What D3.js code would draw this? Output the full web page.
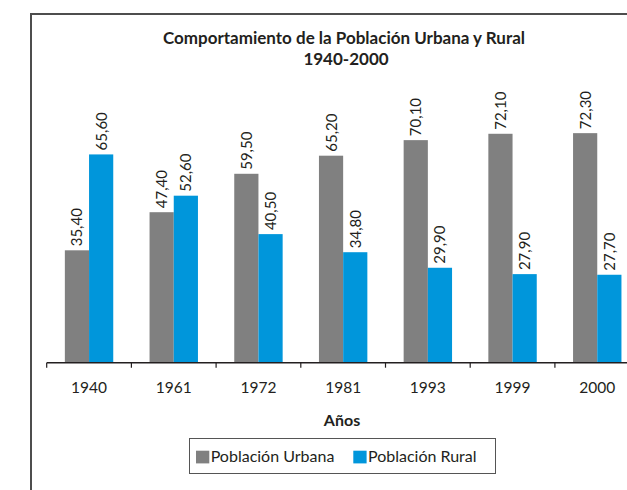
<!DOCTYPE html>
<html>
<head>
<meta charset="utf-8">
<title>Comportamiento de la Población Urbana y Rural</title>
<script src="https://d3js.org/d3.v7.min.js"></script>
<style>
  body { margin: 0; background: #fff; }
  svg text { font-family: Lato, "Open Sans", sans-serif; fill: #231f20; }
  .title { font-weight: bold; font-size: 17px; }
  .cat text { font-size: 15.5px; }
  .val { font-size: 15px; }
</style>
</head>
<body>
<svg width="627" height="490"></svg>
<script>
// data
var years = ["1940", "1961", "1972", "1981", "1993", "1999", "2000"];
var series = ["Población Urbana", "Población Rural"];
var urbana = [35.4, 47.4, 59.5, 65.2, 70.1, 72.1, 72.3];
var rural = [65.6, 52.6, 40.5, 34.8, 29.9, 27.9, 27.7];
var colors = ["#808080", "#0096db"];

var svg = d3.select("svg");

// outer frame (cut off on the right and at the bottom)
svg.append("rect")
  .attr("x", 31).attr("y", 14)
  .attr("width", 700).attr("height", 600)
  .attr("fill", "none")
  .attr("stroke", "#4d4d4d")
  .attr("stroke-width", 2);

var base = 362.7;
var x = d3.scaleBand().domain(years).range([46.7, 46.7 + 7 * 84.7]);
var xs = d3.scaleBand().domain(series).range([0, x.bandwidth()]).paddingOuter(0.75);
var y = d3.scaleLinear().domain([0, 80]).range([base, base - 80 * 3.175]);

var rows = years.map(function(yr, i) {
  return { year: yr, vals: [urbana[i], rural[i]] };
});

// title
svg.append("text").attr("class", "title")
  .attr("x", 344).attr("y", 43.5).attr("text-anchor", "middle")
  .text("Comportamiento de la Población Urbana y Rural");
svg.append("text").attr("class", "title")
  .attr("x", 346).attr("y", 64.5).attr("text-anchor", "middle")
  .text("1940-2000");

// bars
var g = svg.selectAll(".grp")
  .data(rows)
  .enter().append("g")
  .attr("class", "grp")
  .attr("transform", function(d) { return "translate(" + x(d.year) + ",0)"; });

g.selectAll("rect")
  .data(function(d) { return d.vals.map(function(v, j) { return { s: series[j], v: v, j: j }; }); })
  .enter().append("rect")
  .attr("x", function(d) { return xs(d.s); })
  .attr("y", function(d) { return y(d.v); })
  .attr("width", xs.bandwidth())
  .attr("height", function(d) { return base - y(d.v); })
  .attr("fill", function(d) { return colors[d.j]; });

// value labels, rotated
g.selectAll(".val")
  .data(function(d) { return d.vals.map(function(v, j) { return { s: series[j], v: v }; }); })
  .enter().append("text")
  .attr("class", "val")
  .attr("transform", function(d) {
    var cx = xs(d.s) + xs.bandwidth() / 2 + 5.5;
    return "translate(" + cx + "," + (y(d.v) - 4) + ") rotate(-90)";
  })
  .text(function(d) { return d3.format(".2f")(d.v).replace(".", ","); });

// x axis
svg.append("line")
  .attr("x1", x.range()[0]).attr("x2", x.range()[1])
  .attr("y1", base).attr("y2", base)
  .attr("stroke", "#231f20").attr("stroke-width", 1.5);

var edges = years.map(function(d) { return x(d); }).concat([x.range()[1]]);
svg.selectAll(".tk")
  .data(edges)
  .enter().append("line")
  .attr("class", "tk")
  .attr("x1", function(d) { return d; }).attr("x2", function(d) { return d; })
  .attr("y1", base).attr("y2", base + 5)
  .attr("stroke", "#231f20").attr("stroke-width", 1.2);

var ax = svg.append("g").attr("class", "cat")
  .attr("transform", "translate(0," + base + ")")
  .call(d3.axisBottom(x).tickSize(0).tickPadding(19));
ax.select(".domain").remove();
ax.selectAll("text").attr("fill", "#231f20").attr("font-family", "Lato, sans-serif");

svg.append("text").attr("class", "title")
  .attr("x", 342).attr("y", 426).attr("text-anchor", "middle")
  .style("font-size", "16px")
  .text("Años");

// legend
svg.append("rect")
  .attr("x", 189.5).attr("y", 438.5)
  .attr("width", 306).attr("height", 35)
  .attr("fill", "#fff").attr("stroke", "#555").attr("stroke-width", 1);

var legX = [196, 353.3];
var lg = svg.selectAll(".leg")
  .data(series)
  .enter().append("g")
  .attr("class", "leg")
  .attr("transform", function(d, i) { return "translate(" + legX[i] + ",450.7)"; });
lg.append("rect")
  .attr("width", 13.3).attr("height", 12.7)
  .attr("fill", function(d, i) { return colors[i]; });
lg.append("text")
  .attr("x", 14.7).attr("y", 11.6)
  .style("font-size", "16px")
  .text(function(d) { return d; });
</script>
</body>
</html>
